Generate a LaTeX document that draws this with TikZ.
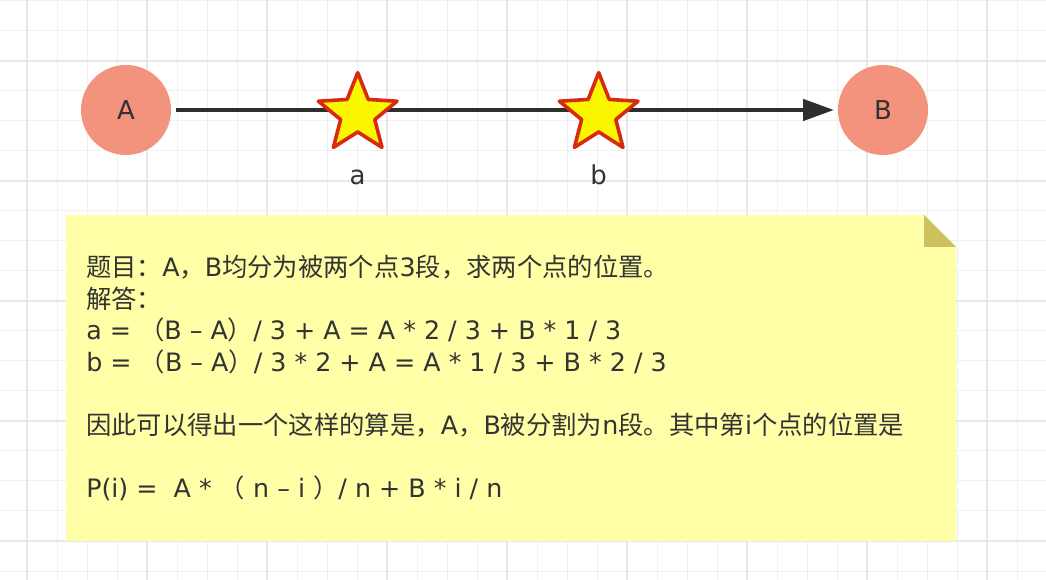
\documentclass[tikz,border=0pt]{standalone}
\usepackage{fontspec}
\setmainfont{DejaVu Sans}
\newfontfamily\cjk{Noto Sans CJK SC}
\usetikzlibrary{shapes.geometric,arrows.meta}
\definecolor{gridminor}{HTML}{F0F0F0}
\definecolor{gridmajor}{HTML}{E8E8E8}
\definecolor{salmon}{HTML}{F4937D}
\definecolor{txt}{HTML}{333333}
\definecolor{starfill}{HTML}{FAF700}
\definecolor{starline}{HTML}{D82A0E}
\definecolor{notefill}{HTML}{FFFFA8}
\definecolor{notefold}{HTML}{CEC05C}
\definecolor{linecol}{HTML}{2E2E2E}
\tikzset{
  minorgrid/.style={draw=gridminor, line width=0.75pt},
  majorgrid/.style={draw=gridmajor, line width=1.5pt},
  endpoint/.style={circle, fill=salmon, minimum size=67.5pt, inner sep=0pt, text=txt, font=\fontsize{19.5pt}{22pt}\selectfont},
  starmark/.style={star, star points=5, star point ratio=2.3, minimum size=62pt, inner sep=0pt, fill=starfill, draw=starline, line width=2.7pt, line join=round},
  ptlabel/.style={anchor=base, inner sep=0pt, text=txt, font=\fontsize{19.5pt}{22pt}\selectfont},
  notetext/.style={anchor=base west, inner sep=0pt, text=txt, font=\fontsize{19pt}{22pt}\selectfont},
  arrowline/.style={draw=linecol, line width=2.5pt, -{Triangle[length=23pt, width=16pt]}, shorten <=3.5pt, shorten >=3pt}
}
\begin{document}
\begin{tikzpicture}[x=0.75pt, y=-0.75pt]
\useasboundingbox (0,0) rectangle (1046,580);
\fill[white] (0,0) rectangle (1046,580);
% grid
\foreach \x in {27,57,...,1017} \draw[minorgrid] (\x,0) -- (\x,580);
\foreach \y in {1,31,...,571} \draw[minorgrid] (0,\y) -- (1046,\y);
\foreach \x in {27,147,...,987} \draw[majorgrid] (\x,0) -- (\x,580);
\foreach \y in {61,181,...,541} \draw[majorgrid] (0,\y) -- (1046,\y);
% endpoints
\node[endpoint] (A) at (126,110) {A};
\node[endpoint] (B) at (883,110) {B};
\draw[arrowline] (A) -- (B);
% division points
\node[starmark] (sa) at (357.7,114) {};
\node[starmark] (sb) at (598.7,114) {};
\node[ptlabel] (la) at (357.7,185) {a};
\node[ptlabel] (lb) at (598.7,185) {b};
% note
\fill[notefill] (66,215) -- (924,215) -- (956,247) -- (956,541) -- (66,541) -- cycle;
\fill[notefold] (924,215) -- (924,247) -- (956,247) -- cycle;
\node[notetext] (t1) at (86,276.5) {{\cjk 题目：}A{\cjk ，}B{\cjk 均分为被两个点}3{\cjk 段，求两个点的位置。}};
\node[notetext] (t2) at (86,308.1) {{\cjk 解答：}};
\node[notetext] (t3) at (86,339.7) {a = {\cjk （}B – A{\cjk ）}/ 3 + A = A * 2 / 3 + B * 1 / 3};
\node[notetext] (t4) at (86,371.3) {b = {\cjk （}B – A{\cjk ）}/ 3 * 2 + A = A * 1 / 3 + B * 2 / 3};
\node[notetext] (t5) at (86,434.5) {{\cjk 因此可以得出一个这样的算是，}A{\cjk ，}B{\cjk 被分割为}n{\cjk 段。其中第}i{\cjk 个点的位置是}};
\node[notetext] (t6) at (86,498) {P(i) =\ \ A * {\cjk （} n – i {\cjk ）}/ n + B * i / n};
\end{tikzpicture}
\end{document}
